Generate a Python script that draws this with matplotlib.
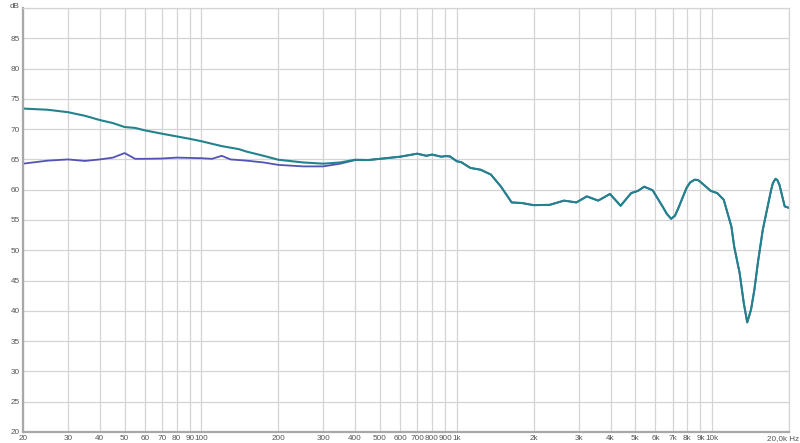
import matplotlib
matplotlib.use("Agg")
import matplotlib.pyplot as plt
import matplotlib.transforms as mtransforms
import numpy as np

# frequency response readings (Hz, dB)
teal_f = [20, 25, 30, 35, 40, 45, 50, 55, 60, 70, 80, 90, 100, 120, 140, 150, 175,
          200, 250, 300, 350, 400, 450, 500, 600, 700, 760, 800, 870, 900, 940,
          1000, 1040, 1130, 1240, 1360, 1490, 1640, 1800, 2000, 2310, 2630, 2940,
          3230, 3580, 3980, 4380, 4820, 5120, 5420, 5850, 6390, 6650, 6910, 7150,
          7380, 7940, 8200, 8540, 8800, 9050, 9880, 10460, 11100, 11900, 12200,
          12820, 13300, 13720, 14200, 14640, 15100, 15790, 17030, 17300, 17700,
          18000, 18350, 19240, 20000]
teal_db = [73.4, 73.2, 72.8, 72.2, 71.5, 71.0, 70.35, 70.2, 69.8, 69.25, 68.8, 68.4, 68.0,
           67.2, 66.7, 66.3, 65.6, 64.95, 64.5, 64.3, 64.5, 64.95, 64.9, 65.1, 65.45,
           65.95, 65.6, 65.8, 65.45, 65.55, 65.5, 64.7, 64.55, 63.6, 63.3, 62.5, 60.5,
           57.9, 57.8, 57.45, 57.5, 58.2, 57.9, 58.9, 58.2, 59.3, 57.35, 59.45, 59.8,
           60.5, 59.9, 57.25, 56.0, 55.2, 55.7, 57.0, 60.3, 61.2, 61.65, 61.6, 61.2,
           59.8, 59.45, 58.35, 53.9, 50.6, 46.2, 41.3, 38.1, 40.2, 43.5, 47.9, 53.4,
           60.0, 61.1, 61.8, 61.6, 60.8, 57.25, 57.0]

purple_low_f = [20, 25, 30, 35, 40, 45, 50, 55, 60, 70, 80, 90, 100, 110, 120, 130,
                150, 175, 200, 250, 300, 350, 400]
purple_low_db = [64.3, 64.8, 65.0, 64.75, 65.0, 65.3, 66.05, 65.1, 65.1, 65.15, 65.3,
                 65.25, 65.2, 65.1, 65.6, 65.0, 64.8, 64.5, 64.1, 63.85, 63.85, 64.3, 64.9]

xticks = [20, 30, 40, 50, 60, 70, 80, 90, 100, 200, 300, 400, 500, 600, 700, 800, 900,
          1000, 2000, 3000, 4000, 5000, 6000, 7000, 8000, 9000, 10000, 20000]
xlabels = ["20", "30", "40", "50", "60", "70", "80", "90", "100", "200", "300", "400",
           "500", "600", "700", "800", "900", "1k", "2k", "3k", "4k", "5k", "6k", "7k",
           "8k", "9k", "10k", "20,0k Hz"]
yticks = list(range(20, 91, 5))

# purple overlaps teal above 400 Hz
tf = np.array(teal_f)
td = np.array(teal_db)
purple_f = np.concatenate([purple_low_f, tf[tf > 400]])
purple_db = np.concatenate([purple_low_db, td[tf > 400]])

plt.rcParams['font.family'] = ['Liberation Sans', 'DejaVu Sans']

fig = plt.figure(figsize=(8, 4.43), dpi=100)
ax = fig.add_axes([23 / 800, 11 / 443, 766 / 800, 424 / 443])

ax.plot(purple_f, purple_db, color='#5353b5', lw=1.3)
ax.plot(teal_f, teal_db, color='#22838c', lw=1.5)

ax.set_xscale('log')
ax.set_xlim(20, 20000)
ax.set_ylim(20, 90)
ax.set_xticks(xticks)
ax.set_xticklabels(xlabels)
ax.minorticks_off()
ax.set_yticks(yticks)
ax.set_yticklabels([str(v) if v < 90 else "" for v in yticks])
ax.grid(True, color='#d4d4d4', lw=0.9)
ax.set_axisbelow(True)
ax.tick_params(length=0, labelsize=5.9, colors='#555555', pad=2)

# last label sits a bit left of the right edge
last = ax.get_xticklabels()[-1]
last.set_transform(last.get_transform() + mtransforms.ScaledTranslation(-6 / 100, 0, fig.dpi_scale_trans))

for s in ['top', 'right']:
    ax.spines[s].set_color('#d4d4d4')
    ax.spines[s].set_linewidth(0.9)
for s in ['left', 'bottom']:
    ax.spines[s].set_color('#a8a8a8')
    ax.spines[s].set_linewidth(1.6)

fig.text(15 / 800, 1 - 6 / 443, "dB", fontsize=5.9, color='#555555', ha='center', va='center')

fig.savefig("out.png", dpi=100)
